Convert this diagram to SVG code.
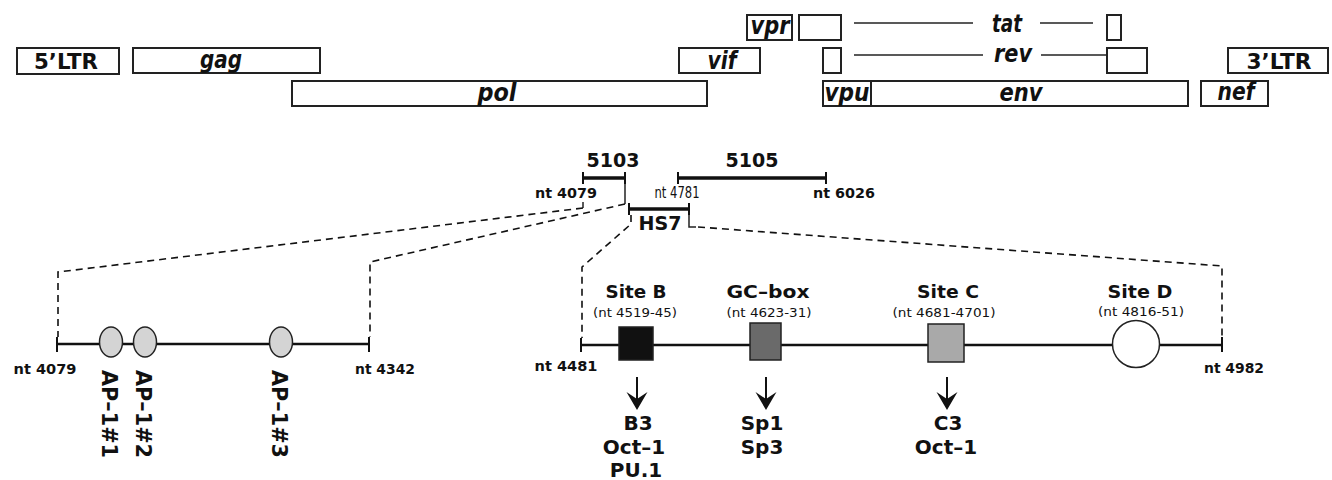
<svg xmlns="http://www.w3.org/2000/svg" width="1332" height="480" viewBox="0 0 1332 480">
<style>
text{font-family:"DejaVu Sans","Liberation Sans",sans-serif;fill:#111}
.box{fill:#fff;stroke:#222;stroke-width:2}
.gene{font-size:24px;font-weight:bold;font-style:italic;text-anchor:middle}
.ltr{font-size:22px;font-weight:bold;text-anchor:middle}
.big{font-size:19px;font-weight:bold;text-anchor:middle}
.nt{font-size:14px;font-weight:bold;text-anchor:middle}
.nts{font-size:15px;text-anchor:middle}
.site{font-size:18px;font-weight:bold;text-anchor:middle}
.pos{font-size:13px;text-anchor:middle}
.tf{font-size:20px;font-weight:bold;text-anchor:middle}
.ap{font-size:22px;font-weight:bold}
.thin{stroke:#222;stroke-width:1.5;fill:none}
.shaft{stroke:#111;stroke-width:2;fill:none}
.bar{stroke:#111;stroke-width:3.5;fill:none}
.tick{stroke:#111;stroke-width:2;fill:none}
.axis{stroke:#111;stroke-width:2.5;fill:none}
.dash{stroke:#111;stroke-width:1.6;fill:none;stroke-dasharray:7 5}
.arrowhead{fill:#111}
</style>

<g id="ltr5"><rect class="box" x="17" y="48" width="102" height="26"/><text class="ltr" x="66" y="69" textLength="64" lengthAdjust="spacingAndGlyphs">5’LTR</text></g>
<g id="gag"><rect class="box" x="133" y="48" width="187" height="25"/><text class="gene" x="221" y="68" textLength="42" lengthAdjust="spacingAndGlyphs">gag</text></g>
<g id="pol"><rect class="box" x="292" y="81" width="415" height="25"/><text class="gene" x="497" y="101" textLength="39" lengthAdjust="spacingAndGlyphs">pol</text></g>
<g id="vif"><rect class="box" x="679" y="48" width="81" height="25"/><text class="gene" x="722" y="69" textLength="29" lengthAdjust="spacingAndGlyphs">vif</text></g>
<g id="vpr"><rect class="box" x="747" y="15" width="45" height="25"/><text class="gene" x="770" y="34" textLength="39" lengthAdjust="spacingAndGlyphs">vpr</text></g>
<g id="tat"><rect class="box" x="799" y="15" width="42" height="25"/><rect class="box" x="1107" y="15" width="14" height="25"/>
<line class="thin" x1="854" y1="23" x2="973" y2="23"/><line class="thin" x1="1040" y1="23" x2="1093" y2="23"/>
<text class="gene" x="1007" y="32" textLength="30" lengthAdjust="spacingAndGlyphs">tat</text></g>
<g id="rev"><rect class="box" x="823" y="48" width="18" height="25"/><rect class="box" x="1107" y="48" width="40" height="25"/>
<line class="thin" x1="854" y1="55" x2="983" y2="55"/><line class="thin" x1="1041" y1="55" x2="1107" y2="55"/>
<text class="gene" x="1013" y="62" textLength="38" lengthAdjust="spacingAndGlyphs">rev</text></g>
<g id="vpu"><rect class="box" x="823" y="81" width="48" height="25"/><text class="gene" x="847" y="101" textLength="45" lengthAdjust="spacingAndGlyphs">vpu</text></g>
<g id="env"><rect class="box" x="871" y="81" width="317" height="25"/><text class="gene" x="1021" y="101" textLength="43" lengthAdjust="spacingAndGlyphs">env</text></g>
<g id="ltr3"><rect class="box" x="1228" y="48" width="100" height="25"/><text class="ltr" x="1279" y="69" textLength="65" lengthAdjust="spacingAndGlyphs">3’LTR</text></g>
<g id="nef"><rect class="box" x="1201" y="81" width="67" height="25"/><text class="gene" x="1236" y="100" textLength="37" lengthAdjust="spacingAndGlyphs">nef</text></g>

<g id="clone5103">
<line class="bar" x1="583" y1="178" x2="625" y2="178"/><line class="tick" x1="583" y1="172" x2="583" y2="184"/><line class="tick" x1="625" y1="172" x2="625" y2="184"/>
<text class="big" x="613" y="167" textLength="53" lengthAdjust="spacingAndGlyphs">5103</text>
<text class="nt" x="566" y="198" textLength="62" lengthAdjust="spacingAndGlyphs">nt 4079</text>
</g>
<g id="clone5105">
<line class="bar" x1="678" y1="178" x2="826" y2="178"/><line class="tick" x1="678" y1="172" x2="678" y2="184"/><line class="tick" x1="826" y1="172" x2="826" y2="184"/>
<text class="big" x="752" y="167" textLength="53" lengthAdjust="spacingAndGlyphs">5105</text>
<text class="nts" x="677" y="198" textLength="45" lengthAdjust="spacingAndGlyphs">nt 4781</text>
<text class="nt" x="844" y="198" textLength="62" lengthAdjust="spacingAndGlyphs">nt 6026</text>
</g>
<g id="hs7">
<line class="bar" x1="629" y1="209" x2="689" y2="209"/><line class="tick" x1="629" y1="203" x2="629" y2="215"/><line class="tick" x1="689" y1="203" x2="689" y2="215"/>
<text class="big" x="660" y="230" textLength="43" lengthAdjust="spacingAndGlyphs">HS7</text>
</g>

<g id="connectors">
<line class="thin" x1="625" y1="184" x2="625" y2="204"/>
<line class="thin" x1="583" y1="202" x2="583" y2="208"/>
<polyline class="dash" points="583,208 58,272 58,337"/>
<polyline class="dash" points="625,204 370,262 370,337"/>
<polyline class="dash" points="631,215 631,224 582,267 582,338"/>
<polyline class="thin" points="689,215 689,227 696,227"/>
<polyline class="dash" points="698,227 1222,266 1222,337"/>
<line class="shaft" x1="637" y1="377" x2="637" y2="402"/><path class="arrowhead" d="M637,410 L626.5,392 L637,399 L647.5,392 Z"/>
<line class="shaft" x1="766" y1="377" x2="766" y2="402"/><path class="arrowhead" d="M766,410 L755.5,392 L766,399 L776.5,392 Z"/>
<line class="shaft" x1="947" y1="377" x2="947" y2="402"/><path class="arrowhead" d="M947,410 L936.5,392 L947,399 L957.5,392 Z"/>
</g>

<g id="region-left">
<line class="axis" x1="57" y1="344" x2="369" y2="344"/><line class="tick" x1="57" y1="337" x2="57" y2="352"/><line class="tick" x1="369" y1="337" x2="369" y2="352"/>
<text class="nt" x="45" y="374" textLength="63" lengthAdjust="spacingAndGlyphs">nt 4079</text>
<text class="nt" x="385" y="374" textLength="60" lengthAdjust="spacingAndGlyphs">nt 4342</text>
</g>
<g id="ap1-1"><ellipse cx="111" cy="342" rx="11.5" ry="15" fill="#d4d4d4" stroke="#222" stroke-width="1.5"/><text class="ap" transform="translate(102,370) rotate(90)" textLength="88" lengthAdjust="spacingAndGlyphs">AP–1#1</text></g>
<g id="ap1-2"><ellipse cx="145" cy="342" rx="11.5" ry="15" fill="#d4d4d4" stroke="#222" stroke-width="1.5"/><text class="ap" transform="translate(136,370) rotate(90)" textLength="88" lengthAdjust="spacingAndGlyphs">AP–1#2</text></g>
<g id="ap1-3"><ellipse cx="281" cy="342" rx="11.5" ry="15" fill="#d4d4d4" stroke="#222" stroke-width="1.5"/><text class="ap" transform="translate(272,370) rotate(90)" textLength="88" lengthAdjust="spacingAndGlyphs">AP–1#3</text></g>

<g id="region-right">
<line class="axis" x1="581" y1="345" x2="1222" y2="345"/><line class="tick" x1="581" y1="338" x2="581" y2="352"/><line class="tick" x1="1222" y1="337" x2="1222" y2="352"/>
<text class="nt" x="566" y="371" textLength="63" lengthAdjust="spacingAndGlyphs">nt 4481</text>
<text class="nt" x="1234" y="373" textLength="60" lengthAdjust="spacingAndGlyphs">nt 4982</text>
</g>
<g id="siteB">
<rect x="619" y="327" width="34" height="33" fill="#111" stroke="#222" stroke-width="1.5"/>
<text class="site" x="636" y="298" textLength="61" lengthAdjust="spacingAndGlyphs">Site B</text>
<text class="pos" x="635" y="317" textLength="84" lengthAdjust="spacingAndGlyphs">(nt 4519-45)</text>
<text class="tf" x="638" y="430">B3</text><text class="tf" x="634" y="454">Oct–1</text><text class="tf" x="636" y="477">PU.1</text>
</g>
<g id="gcbox">
<rect x="750" y="323" width="31" height="37" fill="#6a6a6a" stroke="#222" stroke-width="1.5"/>
<text class="site" x="768" y="298" textLength="83" lengthAdjust="spacingAndGlyphs">GC–box</text>
<text class="pos" x="769" y="317" textLength="85" lengthAdjust="spacingAndGlyphs">(nt 4623-31)</text>
<text class="tf" x="762" y="430">Sp1</text><text class="tf" x="762" y="454">Sp3</text>
</g>
<g id="siteC">
<rect x="928" y="324" width="36" height="38" fill="#a9a9a9" stroke="#222" stroke-width="1.5"/>
<text class="site" x="948" y="298" textLength="62" lengthAdjust="spacingAndGlyphs">Site C</text>
<text class="pos" x="944" y="317" textLength="103" lengthAdjust="spacingAndGlyphs">(nt 4681-4701)</text>
<text class="tf" x="948" y="430">C3</text><text class="tf" x="946" y="454">Oct–1</text>
</g>
<g id="siteD">
<circle cx="1136" cy="344" r="23.5" fill="#fff" stroke="#222" stroke-width="1.5"/>
<text class="site" x="1140" y="298" textLength="65" lengthAdjust="spacingAndGlyphs">Site D</text>
<text class="pos" x="1141" y="316" textLength="86" lengthAdjust="spacingAndGlyphs">(nt 4816-51)</text>
</g>
</svg>
